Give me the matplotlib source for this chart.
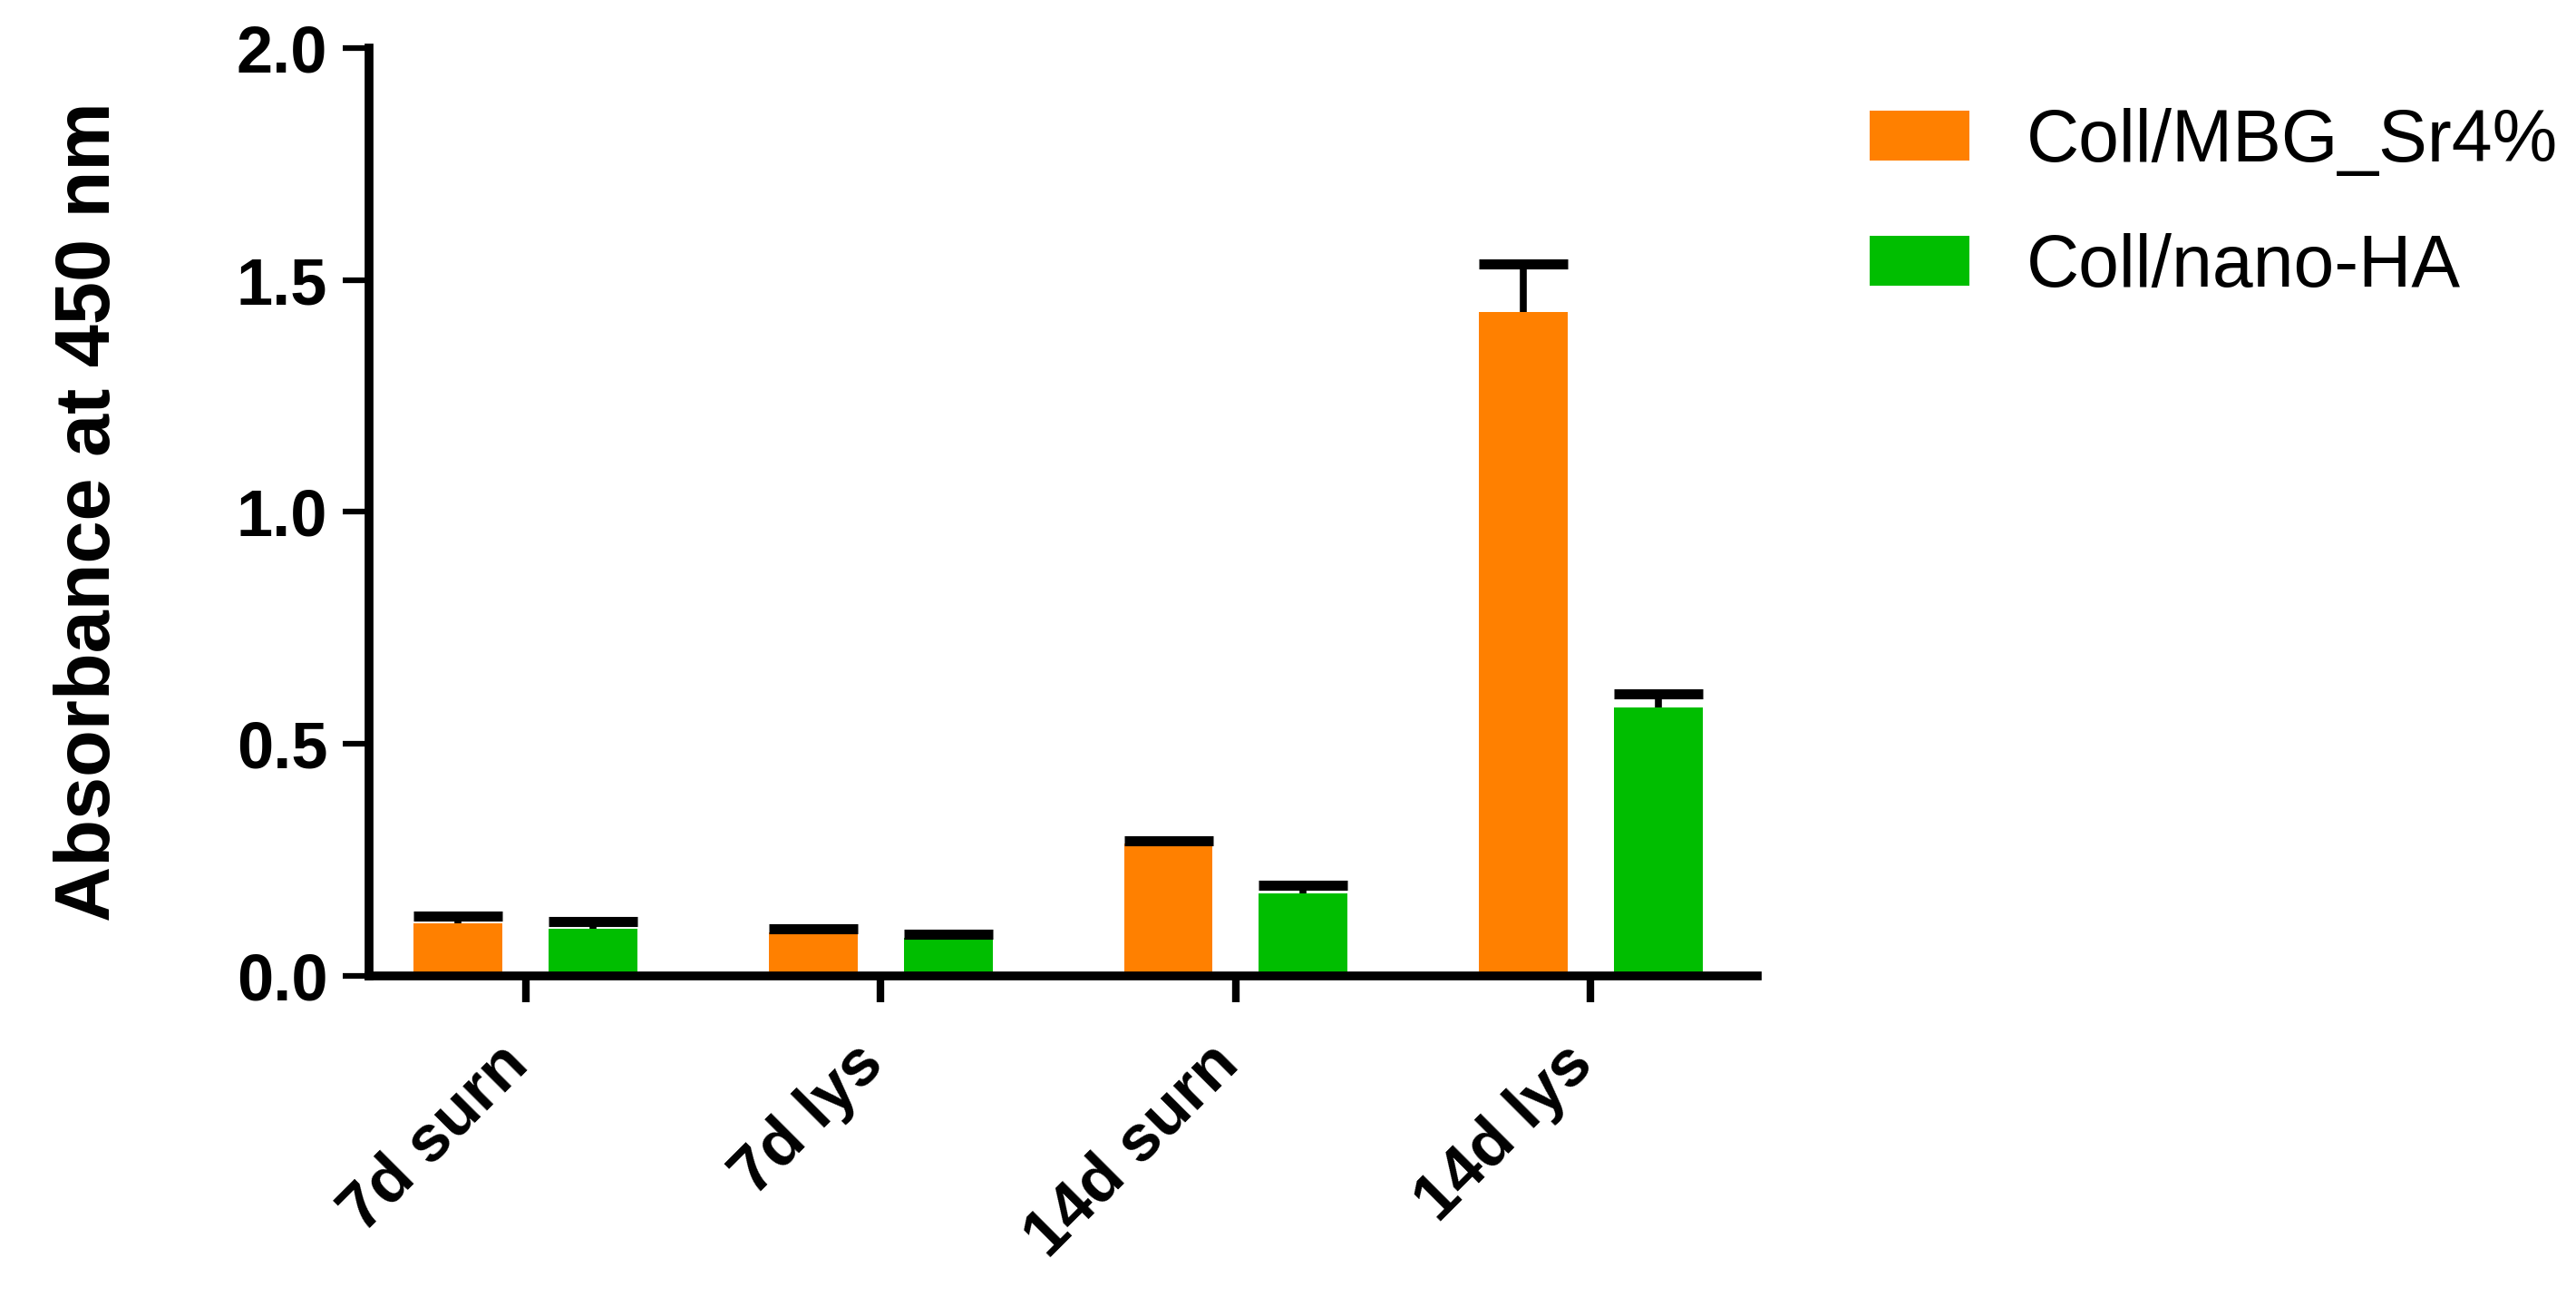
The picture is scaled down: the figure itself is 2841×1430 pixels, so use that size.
import matplotlib
matplotlib.use("Agg")
import matplotlib.pyplot as plt
import matplotlib.transforms as mtransforms
import numpy as np

plt.rcParams['font.family'] = ['Liberation Sans', 'DejaVu Sans']

# ___________________________________________
# data

groups = ["7d surn", "7d lys", "14d surn", "14d lys"]
series_names = ["Coll/MBG_Sr4%", "Coll/nano-HA"]
sr_means = [0.114, 0.094, 0.285, 1.431]
sr_err = [0.015, 0.008, 0.007, 0.104]
ha_means = [0.102, 0.082, 0.178, 0.578]
ha_err = [0.016, 0.007, 0.018, 0.030]
y_ticks = [0.0, 0.5, 1.0, 1.5, 2.0]

orange = "#FF8000"
green = "#00BE00"

# ___________________________________________

fig = plt.figure(figsize=(28.41, 14.30), dpi=100)
ax = fig.add_axes([0.1433, 0.2476, 0.5389, 0.7153])

x = np.arange(len(groups))
width = 0.25
off = 0.19

b1 = ax.bar(x - off, sr_means, width, color=orange, label=series_names[0], zorder=2)
b2 = ax.bar(x + off, ha_means, width, color=green, label=series_names[1], zorder=2)

# only the upper half of the error bars is shown
for xs, means, errs in [(x - off, sr_means, sr_err), (x + off, ha_means, ha_err)]:
    eb = ax.errorbar(xs, means, yerr=[np.zeros(len(errs)), errs], fmt='none',
                     ecolor='black', elinewidth=5.5, capsize=35, capthick=8, zorder=3)
    eb[1][0].set_visible(False)  # lower cap

ax.set_xlim(-0.441, 3.469)
ax.set_ylim(0, 2.0)
ax.set_yticks(y_ticks)
ax.set_yticklabels(["%.1f" % t for t in y_ticks])
ax.set_xticks(x)
ax.set_xticklabels(groups)

for side in ['top', 'right']:
    ax.spines[side].set_visible(False)
for side in ['left', 'bottom']:
    ax.spines[side].set_linewidth(7)

ax.tick_params(axis='both', length=21, color='black')
ax.tick_params(axis='y', width=4.5, pad=12, labelsize=52)
ax.tick_params(axis='x', width=6, pad=24, labelsize=52)
for lab in ax.get_yticklabels():
    lab.set_fontweight('bold')

shift = mtransforms.ScaledTranslation(-0.32, 0, fig.dpi_scale_trans)
for lab in ax.get_xticklabels():
    lab.set_fontweight('bold')
    lab.set_rotation(45)
    lab.set_rotation_mode('anchor')
    lab.set_ha('right')
    lab.set_va('top')
    lab.set_transform(lab.get_transform() + shift)

ax.set_ylabel("Absorbance at 450 nm", fontsize=61, fontweight='bold')
ax.yaxis.set_label_coords(-0.175, 0.5)

fig.legend(handles=[b1, b2], labels=series_names, loc='upper left',
           bbox_to_anchor=(0.7258, 0.917), frameon=False, fontsize=58,
           borderpad=0, borderaxespad=0, handlelength=1.36, handleheight=0.68,
           handletextpad=0.79, labelspacing=0.77)

fig.savefig("out.png", dpi=100)
